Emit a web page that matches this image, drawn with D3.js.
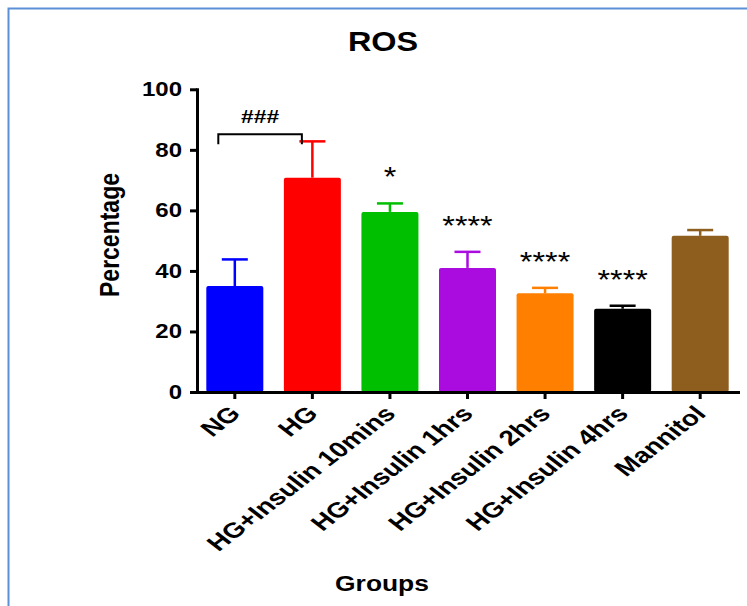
<!DOCTYPE html>
<html>
<head>
<meta charset="utf-8">
<script src="https://cdn.jsdelivr.net/npm/d3@7"></script>
<style>
  body { margin: 0; background: #fff; }
  text { font-family: "Liberation Sans", Arial, sans-serif; font-weight: bold; fill: #000; }
</style>
</head>
<body>
<div id="chart"></div>
<script>
// Data
const groups = ["NG", "HG", "HG+Insulin 10mins", "HG+Insulin 1hrs", "HG+Insulin 2hrs", "HG+Insulin 4hrs", "Mannitol"];
const means = [35.0, 70.8, 59.5, 41.0, 32.6, 27.5, 51.6];
const sem = [8.8, 12.0, 2.8, 5.3, 1.8, 1.0, 1.9];
const barColors = ["#0000ff", "#ff0000", "#00bf00", "#aa0ce0", "#ff8000", "#000000", "#8e5e1f"];
const yTicks = [0, 20, 40, 60, 80, 100];
const stars = ["", "", "*", "****", "****", "****", ""];
const hashLabel = "###";

const W = 747, H = 606;
const SX = 1.2; // the original figure is stretched horizontally

const svg = d3.select("#chart")
    .append("svg")
    .attr("width", W)
    .attr("height", H);

// blue frame (only top and left edges are visible)
svg.append("rect")
    .attr("x", 8.5).attr("y", 8.5)
    .attr("width", 800).attr("height", 700)
    .attr("fill", "none")
    .attr("stroke", "#5b8fd6")
    .attr("stroke-width", 2);

const x = d3.scaleBand()
    .domain(groups)
    .range([197, 738])
    .paddingInner(0.265)
    .paddingOuter(0.12);

const y = d3.scaleLinear()
    .domain([0, 100])
    .range([392, 89.3]);

const data = groups.map((g, i) => ({ g, mean: means[i], err: sem[i], color: barColors[i], star: stars[i] }));
const cx = d => x(d.g) + x.bandwidth() / 2;

// bars
svg.selectAll(".bar")
    .data(data)
    .enter()
    .append("rect")
    .attr("class", "bar")
    .attr("x", d => x(d.g))
    .attr("y", d => y(d.mean))
    .attr("width", x.bandwidth())
    .attr("height", d => y(0) - y(d.mean))
    .attr("rx", 2)
    .attr("fill", d => d.color);

// error bars (upper only)
const eb = svg.selectAll(".err")
    .data(data)
    .enter()
    .append("g")
    .attr("class", "err")
    .attr("stroke", d => d.color)
    .attr("stroke-width", 2.5);
eb.append("line")
    .attr("x1", cx).attr("x2", cx)
    .attr("y1", d => y(d.mean)).attr("y2", d => y(d.mean + d.err));
eb.append("line")
    .attr("x1", d => cx(d) - 13).attr("x2", d => cx(d) + 13)
    .attr("y1", d => y(d.mean + d.err)).attr("y2", d => y(d.mean + d.err));

// axes
const yAxis = svg.append("g")
    .attr("transform", `translate(${x.range()[0]},0)`)
    .call(d3.axisLeft(y).tickValues(yTicks).tickSize(7).tickSizeOuter(0).tickPadding(5.5));
yAxis.select(".domain").attr("stroke-width", 3).attr("stroke-linecap", "square");
yAxis.selectAll(".tick line").attr("stroke-width", 3);
yAxis.selectAll(".tick text")
    .attr("transform", `scale(${SX},1)`)
    .style("font-size", "20px")
    .style("font-family", "'Liberation Sans', Arial, sans-serif")
    .style("font-weight", "bold");

const xAxis = svg.append("g")
    .attr("transform", `translate(0,${y(0)})`)
    .call(d3.axisBottom(x).tickSize(7).tickSizeOuter(0).tickFormat(""));
xAxis.select(".domain").attr("stroke-width", 3).attr("stroke-linecap", "square");
xAxis.selectAll(".tick line").attr("stroke-width", 3);

// rotated group labels
svg.selectAll(".xlab")
    .data(data)
    .enter()
    .append("g")
    .attr("class", "xlab")
    .attr("transform", d => `translate(${cx(d) + 7},${y(0) + 23}) scale(${SX + 0.1},1) rotate(-45)`)
    .append("text")
    .attr("text-anchor", "end")
    .style("font-size", "21.5px")
    .text(d => d.g);

// significance stars
svg.selectAll(".star")
    .data(data.filter(d => d.star))
    .enter()
    .append("g")
    .attr("class", "star")
    .attr("transform", d => `translate(${cx(d)},${y(d.mean + d.err) - 31 + 14}) scale(${SX},1)`)
    .append("text")
    .attr("text-anchor", "middle")
    .style("font-size", "27px")
    .style("font-weight", "normal")
    .text(d => d.star);

// NG vs HG bracket
const bx1 = x(groups[0]) + 12, bx2 = x(groups[1]) + 18;
const by = y(Math.max(means[0] + sem[0], means[1] + sem[1])) - 7;
svg.append("path")
    .attr("d", `M${bx1},${by + 10}V${by}H${bx2}V${by + 10}`)
    .attr("fill", "none")
    .attr("stroke", "#000")
    .attr("stroke-width", 2);
svg.append("g")
    .attr("transform", `translate(${(bx1 + bx2) / 2},${by - 11}) scale(${SX},1)`)
    .append("text")
    .attr("text-anchor", "middle")
    .style("font-size", "19px")
    .text(hashLabel);

// title and axis titles
svg.append("g")
    .attr("transform", `translate(383,51) scale(${SX},1)`)
    .append("text")
    .attr("text-anchor", "middle")
    .style("font-size", "27px")
    .text("ROS");

svg.append("g")
    .attr("transform", `translate(119,235) scale(${SX},1) rotate(-90)`)
    .append("text")
    .attr("text-anchor", "middle")
    .style("font-size", "23px")
    .text("Percentage");

svg.append("g")
    .attr("transform", `translate(382,591) scale(${SX},1)`)
    .append("text")
    .attr("text-anchor", "middle")
    .style("font-size", "22px")
    .text("Groups");
</script>
</body>
</html>
